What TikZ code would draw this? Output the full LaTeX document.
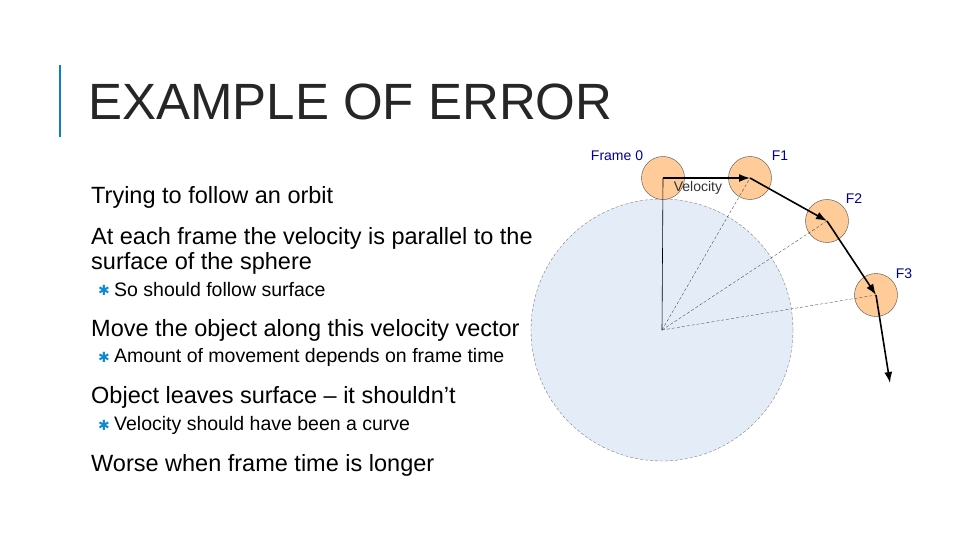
\documentclass[tikz,border=0pt]{standalone}
\usepackage{fontspec}
\setmainfont{Liberation Sans}
\newfontfamily\bulfont{DejaVu Sans}
\usetikzlibrary{arrows.meta}
\definecolor{sph}{HTML}{E4ECF7}
\begin{document}
\begin{tikzpicture}[x=1pt,y=-1pt,
  body/.style={anchor=west,inner sep=0pt,font=\fontsize{23.5}{26}\selectfont},
  sub/.style={anchor=west,inner sep=0pt,font=\fontsize{19.5}{22}\selectfont},
  bul/.style={inner sep=0pt,text=cyan!70!blue,font=\bulfont\fontsize{14}{15}\selectfont},
  ball/.style={circle,draw=black!70,fill=orange!40!white,minimum size=43pt,inner sep=0pt},
  lbl/.style={text=blue!60!black,font=\fontsize{14}{15}\selectfont,inner sep=0pt},
  thick arr/.style={-{Latex[length=11pt,width=8pt]},line width=1.6pt},
  rad/.style={densely dashed,line width=0.3pt,black!80}]
\useasboundingbox (0,0) rectangle (960,540);
\fill[white] (0,0) rectangle (960,540);
\draw[line width=2.5pt,cyan!60!blue] (60,65) -- (60,137);
\node[anchor=base west,inner sep=0pt,font=\fontsize{51}{54}\selectfont,text=black!85] (title) at (88,120) {EXAMPLE OF ERROR};
\node[body] (t1) at (91,197) {Trying to follow an orbit};
\node[body] (t2) at (91,238) {At each frame the velocity is parallel to the};
\node[body] (t3) at (91,263) {surface of the sphere};
\node[bul] (b1) at (104,290) {✱}; \node[sub] (s1) at (114,290) {So should follow surface};
\node[body] (t4) at (91,330) {Move the object along this velocity vector};
\node[bul] (b2) at (104,357) {✱}; \node[sub] (s2) at (114,357) {Amount of movement depends on frame time};
\node[body] (t5) at (91,397) {Object leaves surface -- it shouldn’t};
\node[bul] (b3) at (104,425) {✱}; \node[sub] (s3) at (114,425) {Velocity should have been a curve};
\node[body] (t6) at (91,465) {Worse when frame time is longer};
% sphere
\coordinate (c) at (662,330);
\fill[sph] (c) circle (131);
\draw[black!60,line width=0.3pt,densely dashed] (c) circle (131);
\node[ball] (f0) at (663,178) {};
\node[ball] (f1) at (750,178) {};
\node[ball] (f2) at (827,221) {};
\node[ball] (f3) at (876,295) {};
\coordinate (e) at (890,383);
\draw[line width=0.6pt] (c) -- (f0.center);
\draw[rad] (c) -- (f1.center);
\draw[rad] (c) -- (f2.center);
\draw[rad] (c) -- (f3.center);
\draw[thick arr] (f0.center) -- (f1.center);
\draw[thick arr] (f1.center) -- (f2.center);
\draw[thick arr] (f2.center) -- (f3.center);
\draw[thick arr] (f3.center) -- (e);
\node[inner sep=0pt,font=\fontsize{14}{15}\selectfont,text=black!80] (vel) at (698,188) {Velocity};
\node[lbl] (l0) at (617,156) {Frame 0};
\node[lbl] (l1) at (780,156) {F1};
\node[lbl] (l2) at (854,199) {F2};
\node[lbl] (l3) at (904,274) {F3};
\end{tikzpicture}
\end{document}
